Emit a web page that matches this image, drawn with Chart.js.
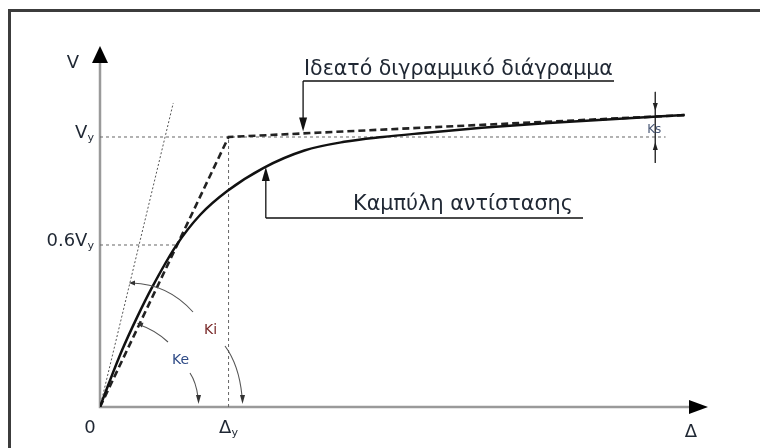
<!DOCTYPE html>
<html>
<head>
<meta charset="utf-8">
<script src="https://cdn.jsdelivr.net/npm/chart.js@4.4.1/dist/chart.umd.min.js"></script>
<style>
  html, body { margin: 0; padding: 0; background: #fff; }
  canvas { display: block; }
</style>
</head>
<body>
<canvas id="chart" width="760" height="448"></canvas>
<script>
// Δ in units of Δy, V in units of Vy
const curveX = [0, 0.07, 0.172, 0.289, 0.406, 0.59, 0.78, 0.99, 1.27, 1.59, 1.90, 2.2, 2.5, 2.97, 3.49, 4.01, 4.55];
const curveY = [0, 0.089, 0.211, 0.333, 0.444, 0.596, 0.712, 0.800, 0.885, 0.950, 0.982, 1.000, 1.014, 1.034, 1.052, 1.067, 1.081];

const bilinearX = [0, 1, 4.55];
const bilinearY = [0, 1, 1.081];

const initialX = [0, 0.57];
const initialY = [0, 1.126];

const vyRefX = [0, 4.40];
const vyRefY = [1, 1];
const sixRefX = [0, 0.59];
const sixRefY = [0.6, 0.6];
const dyRefX = [1, 1];
const dyRefY = [0, 1];

const ksX = [4.32, 4.32];
const ksY = [1.167, 0.904];

// tick labels: [main, subscript]
const xTickValues = [0, 1];
const xTickLabels = [["0", ""], ["Δ", "y"]];
const yTickValues = [0.6, 1];
const yTickLabels = [["0.6V", "y"], ["V", "y"]];

const FONT = '"DejaVu Sans", "Liberation Sans", sans-serif';
const INK = "#1f2733";

function pts(xs, ys) {
  return xs.map((x, i) => ({ x: x, y: ys[i] }));
}

function refLine(xs, ys) {
  return {
    data: pts(xs, ys),
    showLine: true,
    borderColor: "#666",
    borderWidth: 1,
    borderDash: [3, 3],
    pointRadius: 0,
    order: 5
  };
}

function arrowHead(ctx, tipX, tipY, angle, len, half) {
  ctx.save();
  ctx.translate(tipX, tipY);
  ctx.rotate(angle);
  ctx.beginPath();
  ctx.moveTo(0, 0);
  ctx.lineTo(-len, -half);
  ctx.lineTo(-len, half);
  ctx.closePath();
  ctx.fill();
  ctx.restore();
}

function fitText(ctx, text, x, y, width, size) {
  ctx.font = size + "px " + FONT;
  const w = ctx.measureText(text).width;
  const s = size * width / w;
  ctx.font = s.toFixed(2) + "px " + FONT;
  ctx.fillText(text, x, y);
}

// main text with subscript
function subText(ctx, main, sub, x, y, size, align) {
  ctx.font = size + "px " + FONT;
  const w1 = ctx.measureText(main).width;
  ctx.font = (size * 0.62) + "px " + FONT;
  const w2 = sub ? ctx.measureText(sub).width : 0;
  const total = w1 + w2;
  let left = x;
  if (align === "right") left = x - total;
  if (align === "center") left = x - total / 2;
  ctx.textAlign = "left";
  ctx.font = size + "px " + FONT;
  ctx.fillText(main, left, y);
  if (sub) {
    ctx.font = (size * 0.62) + "px " + FONT;
    ctx.fillText(sub, left + w1, y + 3);
  }
}

const diagramPlugin = {
  id: "diagram",
  beforeDatasetsDraw(chart) {
    const ctx = chart.ctx;
    const xs = chart.scales.x, ys = chart.scales.y;
    const ox = xs.getPixelForValue(0), oy = ys.getPixelForValue(0);
    const xEnd = xs.getPixelForValue(xs.max), yEnd = ys.getPixelForValue(ys.max);
    ctx.save();
    // frame (right and bottom edges lie outside the picture)
    ctx.strokeStyle = "#3c3c3c";
    ctx.lineWidth = 3;
    ctx.beginPath();
    ctx.moveTo(9.5, chart.height + 5);
    ctx.lineTo(9.5, 10.5);
    ctx.lineTo(chart.width + 5, 10.5);
    ctx.stroke();
    // axes
    ctx.strokeStyle = "#9a9a9a";
    ctx.lineWidth = 2.5;
    ctx.beginPath();
    ctx.moveTo(ox, yEnd + 10);
    ctx.lineTo(ox, oy);
    ctx.lineTo(xEnd - 10, oy);
    ctx.stroke();
    ctx.restore();
  },
  afterDatasetsDraw(chart) {
    const ctx = chart.ctx;
    const xs = chart.scales.x, ys = chart.scales.y;
    const px = v => xs.getPixelForValue(v);
    const py = v => ys.getPixelForValue(v);
    const ox = px(0), oy = py(0);
    ctx.save();
    ctx.fillStyle = "#000";
    // axis arrows
    arrowHead(ctx, ox, py(ys.max), -Math.PI / 2, 17, 8);
    arrowHead(ctx, px(xs.max), oy, 0, 19, 7);

    // tick labels
    ctx.fillStyle = INK;
    ctx.textBaseline = "alphabetic";
    xTickValues.forEach((v, i) => {
      subText(ctx, xTickLabels[i][0], xTickLabels[i][1], px(v) - (v === 0 ? 10 : 0), oy + 26, 18, "center");
    });
    yTickValues.forEach((v, i) => {
      subText(ctx, yTickLabels[i][0], yTickLabels[i][1], ox - 6, py(v) + 1, 18, "right");
    });
    // axis titles
    subText(ctx, "V", "", ox - 27, py(ys.max) + 22, 18, "center");
    subText(ctx, "Δ", "", px(xs.max) - 17, oy + 30, 18, "center");

    // Ks marker arrows
    ctx.fillStyle = "#222";
    const kx = px(ksX[0]);
    arrowHead(ctx, kx, py(1.081) - 4, Math.PI / 2, 8, 2.5);
    arrowHead(ctx, kx, py(1) + 5, -Math.PI / 2, 8, 2.5);
    ctx.fillStyle = "#4a5876";
    ctx.font = "12px " + FONT;
    ctx.textAlign = "center";
    ctx.fillText("Ks", kx - 1, py(1) - 4);

    // leader: idealised bilinear
    ctx.strokeStyle = "#111";
    ctx.fillStyle = "#111";
    ctx.lineWidth = 1.3;
    const lx = px(1.58);
    const lTip = py(1 + 0.081 * (0.58 / 3.55)) - 2;
    ctx.beginPath();
    ctx.moveTo(lx, 81);
    ctx.lineTo(lx, lTip - 10);
    ctx.moveTo(lx, 81);
    ctx.lineTo(614, 81);
    ctx.stroke();
    arrowHead(ctx, lx, lTip, Math.PI / 2, 14, 4);

    // leader: resistance curve
    const cx = px(1.29);
    const cTip = py(0.889);
    ctx.beginPath();
    ctx.moveTo(cx, 218);
    ctx.lineTo(cx, cTip + 10);
    ctx.moveTo(cx, 218);
    ctx.lineTo(583, 218);
    ctx.stroke();
    arrowHead(ctx, cx, cTip, -Math.PI / 2, 14, 4);

    ctx.fillStyle = INK;
    ctx.textAlign = "left";
    fitText(ctx, "Ιδεατό διγραμμικό διάγραμμα", 304, 75, 309, 17);
    fitText(ctx, "Καμπύλη αντίστασης", 353, 210, 220, 17);

    // stiffness angle arcs
    ctx.strokeStyle = "#555";
    ctx.fillStyle = "#333";
    ctx.lineWidth = 1.1;
    ctx.beginPath();
    ctx.moveTo(132, 283);
    ctx.quadraticCurveTo(168, 284, 193, 312);
    ctx.moveTo(225, 346);
    ctx.quadraticCurveTo(239, 365, 242, 396);
    ctx.moveTo(140, 325);
    ctx.quadraticCurveTo(155, 330, 168, 342);
    ctx.moveTo(190, 373);
    ctx.quadraticCurveTo(196, 382, 198, 397);
    ctx.stroke();
    arrowHead(ctx, 129, 283, Math.PI, 6, 2.5);
    arrowHead(ctx, 137, 323, Math.PI + 0.35, 6, 2.5);
    arrowHead(ctx, 242.5, 404, Math.PI / 2, 9, 2.5);
    arrowHead(ctx, 198.5, 404, Math.PI / 2, 9, 2.5);

    ctx.font = "14px " + FONT;
    ctx.fillStyle = "#7a2a2a";
    ctx.fillText("Ki", 204, 334);
    ctx.fillStyle = "#2e4a86";
    ctx.fillText("Ke", 172, 364);
    ctx.restore();
  }
};

new Chart(document.getElementById("chart"), {
  type: "scatter",
  data: {
    datasets: [
      {
        data: pts(curveX, curveY),
        showLine: true,
        borderColor: "#111",
        borderWidth: 2.5,
        cubicInterpolationMode: "monotone",
        pointRadius: 0,
        order: 1
      },
      {
        data: pts(bilinearX, bilinearY),
        showLine: true,
        borderColor: "#222",
        borderWidth: 2.6,
        borderDash: [7, 4],
        pointRadius: 0,
        order: 2
      },
      {
        data: pts(initialX, initialY),
        showLine: true,
        borderColor: "#555",
        borderWidth: 1,
        borderDash: [2, 2],
        pointRadius: 0,
        order: 4
      },
      refLine(vyRefX, vyRefY),
      refLine(sixRefX, sixRefY),
      refLine(dyRefX, dyRefY),
      {
        data: pts(ksX, ksY),
        showLine: true,
        borderColor: "#333",
        borderWidth: 1,
        pointRadius: 0,
        order: 3
      }
    ]
  },
  options: {
    responsive: false,
    animation: false,
    layout: { padding: { left: 100, right: 52, top: 46, bottom: 41 } },
    plugins: { legend: { display: false }, tooltip: { enabled: false } },
    scales: {
      x: { type: "linear", min: 0, max: 4.73, display: false },
      y: { type: "linear", min: 0, max: 1.337, display: false }
    }
  },
  plugins: [diagramPlugin]
});
</script>
</body>
</html>
